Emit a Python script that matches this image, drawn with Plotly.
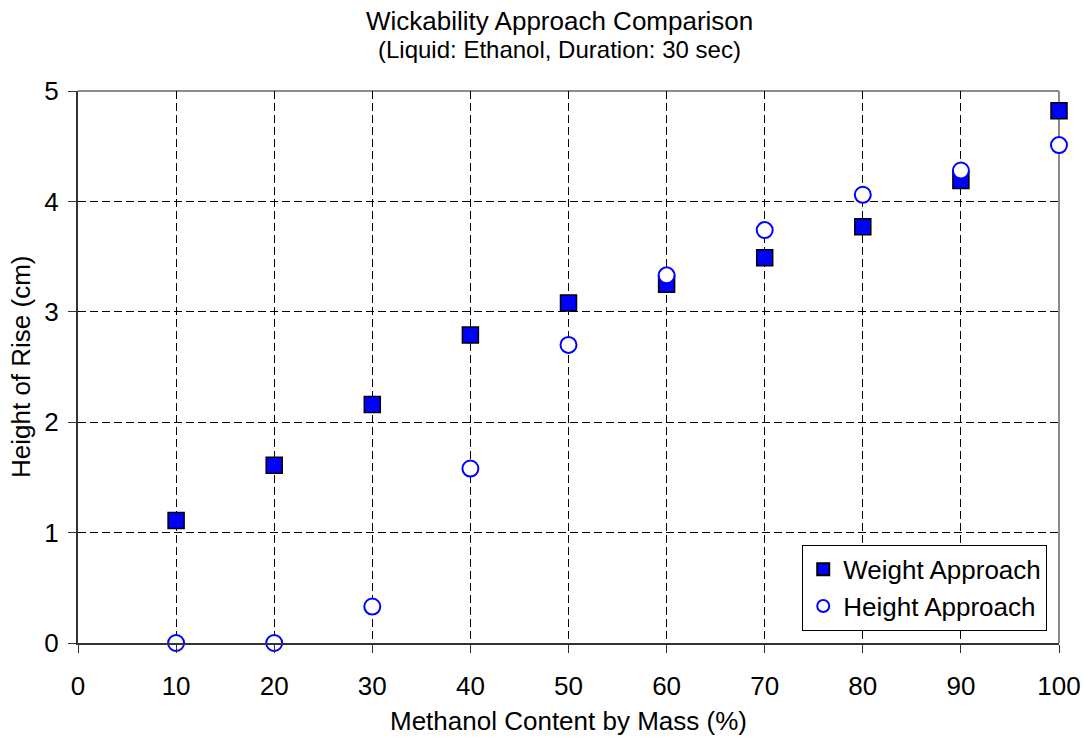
import plotly.graph_objects as go

methanol = [10, 20, 30, 40, 50, 60, 70, 80, 90, 100]
weight_approach = [1.11, 1.61, 2.16, 2.79, 3.08, 3.25, 3.49, 3.77, 4.19, 4.82]
height_approach = [0.0, 0.0, 0.33, 1.58, 2.70, 3.33, 3.74, 4.06, 4.28, 4.51]
x_ticks = [0, 10, 20, 30, 40, 50, 60, 70, 80, 90, 100]
y_ticks = [0, 1, 2, 3, 4, 5]

FONT = "Liberation Sans, Arial, sans-serif"

fig = go.Figure()
fig.add_trace(go.Scatter(
    x=methanol, y=weight_approach, mode="markers", name="Weight Approach",
    marker=dict(symbol="square", size=16, color="#0000FF",
                line=dict(color="#000000", width=1.5)),
    cliponaxis=False,
))
fig.add_trace(go.Scatter(
    x=methanol, y=height_approach, mode="markers", name="Height Approach",
    marker=dict(symbol="circle", size=16, color="#FFFFFF",
                line=dict(color="#0000FF", width=2)),
    cliponaxis=False,
))

# mirrored gray frame on top/right
fig.add_shape(type="line", xref="paper", yref="paper", x0=0, x1=1, y0=1, y1=1,
              line=dict(color="#8c8c8c", width=2), layer="below")
fig.add_shape(type="line", xref="paper", yref="paper", x0=1, x1=1, y0=0, y1=1,
              line=dict(color="#8c8c8c", width=2), layer="below")

annotations = [
    dict(text="Wickability Approach Comparison", xref="paper", yref="paper",
         x=0.4913, y=1.1268, xanchor="center", yanchor="middle", showarrow=False,
         font=dict(size=26, family=FONT, color="black")),
    dict(text="(Liquid: Ethanol, Duration: 30 sec)", xref="paper", yref="paper",
         x=0.4913, y=1.0743, xanchor="center", yanchor="middle", showarrow=False,
         font=dict(size=24, family=FONT, color="black")),
    dict(text="Methanol Content by Mass (%)", xref="paper", yref="paper",
         x=0.5, y=-0.1413, xanchor="center", yanchor="middle", showarrow=False,
         font=dict(size=26, family=FONT, color="black")),
    dict(text="Height of Rise (cm)", xref="paper", yref="paper", textangle=-90,
         x=-0.0581, y=0.5, xanchor="center", yanchor="middle", showarrow=False,
         font=dict(size=26, family=FONT, color="black")),
]

fig.update_layout(
    width=1084, height=737,
    margin=dict(l=78, r=25, t=91, b=94, autoexpand=False),
    paper_bgcolor="white", plot_bgcolor="white",
    font=dict(family=FONT, color="black", size=26),
    annotations=annotations,
    xaxis=dict(
        range=[0, 100], tickvals=x_ticks, ticks="outside", ticklen=8,
        tickcolor="#333333", showline=True, linecolor="#333333", linewidth=2,
        showgrid=True, gridcolor="#000000", griddash="8px,4px", gridwidth=1,
        zeroline=False, tickfont=dict(size=26, color="black"),
        ticklabelstandoff=11, automargin=False,
    ),
    yaxis=dict(
        range=[0, 5], tickvals=y_ticks, ticks="outside", ticklen=8,
        tickcolor="#333333", showline=True, linecolor="#333333", linewidth=2,
        showgrid=True, gridcolor="#000000", griddash="8px,4px", gridwidth=1,
        zeroline=False, tickfont=dict(size=26, color="black"),
        ticklabelstandoff=4, automargin=False,
    ),
    legend=dict(
        x=0.988, y=0.022, xanchor="right", yanchor="bottom",
        bgcolor="white", bordercolor="#000000", borderwidth=1,
        font=dict(size=26, color="black"), tracegroupgap=0, itemsizing="constant",
    ),
    showlegend=True,
)

fig.write_html("out.html")
